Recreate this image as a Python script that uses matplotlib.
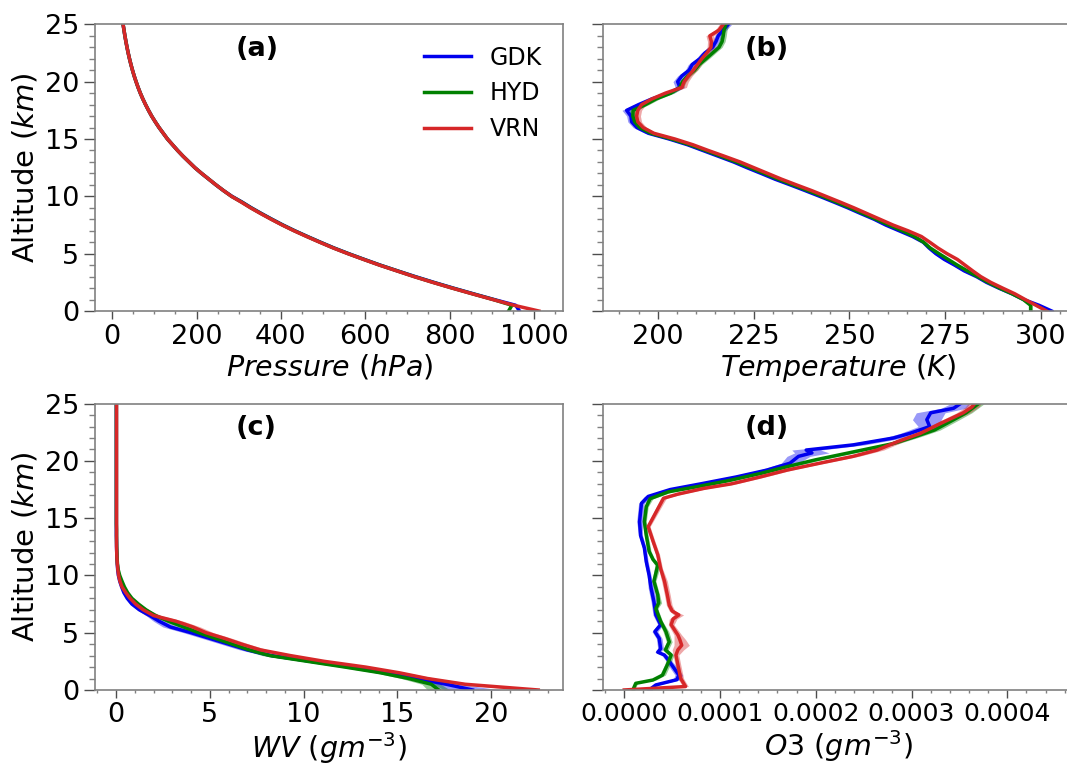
import matplotlib
matplotlib.use("Agg")
import matplotlib.pyplot as plt
from matplotlib.ticker import MultipleLocator, FormatStrFormatter
import numpy as np

# altitude levels (km) shared by pressure, temperature and water vapour
alt_km = [0.0, 0.5, 1.0, 1.5, 2.0, 2.5, 3.0, 3.5, 4.0, 4.5,
          5.0, 5.5, 6.0, 6.5, 7.0, 7.5, 8.0, 8.5, 9.0, 9.5,
          10.0, 10.5, 11.0, 11.5, 12.0, 12.5, 13.0, 13.5, 14.0, 14.5,
          15.0, 15.5, 16.0, 16.5, 17.0, 17.5, 18.0, 18.5, 19.0, 19.5,
          20.0, 20.5, 21.0, 21.5, 22.0, 22.5, 23.0, 23.5, 24.0, 24.5, 25.0]

stations = ["GDK", "HYD", "VRN"]
colors = {"GDK": "#0000ee", "HYD": "#008000", "VRN": "#d62728"}

# pressure (hPa)
p_gdk = [966, 957, 906, 857, 809, 763, 719, 677, 636, 598,
         561, 526, 494, 463, 433, 405, 379, 354, 330, 308,
         284, 264, 246, 229, 212, 196, 182, 168, 155, 143,
         131, 121, 111, 102, 93.5, 86, 79, 72.5, 66.6, 61.3,
         56.5, 52, 48, 44.3, 40.9, 37.8, 35, 32.4, 30, 27.8, 25.7]
p_hyd = [940, 948, 904, 855, 807, 761, 717, 676, 635, 597,
         560, 525, 493, 462, 432, 404, 378, 353, 329, 307,
         283, 264, 246, 229, 212, 196, 182, 168, 155, 143,
         131, 121, 111, 102, 93.5, 86, 79, 72.5, 66.6, 61.3,
         56.5, 52, 48, 44.3, 40.9, 37.8, 35, 32.4, 30, 27.8, 25.7]
p_vrn = [1012, 953, 903, 854, 806, 760, 716, 675, 634, 596,
         559, 524, 492, 461, 431, 403, 377, 352, 328, 306,
         283, 264, 246, 229, 212, 196, 182, 168, 155, 143,
         131, 121, 111, 102, 93.5, 86, 79, 72.5, 66.6, 61.3,
         56.5, 52, 48, 44.3, 40.9, 37.8, 35, 32.4, 30, 27.8, 25.7]

# temperature (K) and its spread
t_gdk = [302.8, 299.5, 295.5, 292.5, 289.0, 285.8, 283.2, 280.0, 277.5, 274.8,
         272.6, 270.8, 269.3, 266.5, 263.0, 259.5, 256.5, 253.0, 249.6, 246.0,
         242.3, 238.5, 234.6, 230.6, 227.0, 223.3, 219.8, 215.8, 211.8, 207.8,
         203.0, 197.6, 194.6, 193.2, 193.0, 191.9, 195.0, 198.5, 203.0, 205.8,
         205.2, 206.3, 208.2, 209.0, 211.0, 212.3, 214.3, 215.2, 215.8, 217.0, 218.4]
t_hyd = [297.3, 297.3, 295.4, 292.5, 289.2, 286.2, 283.5, 280.8, 278.2, 275.8,
         273.4, 271.1, 269.4, 267.0, 263.8, 260.3, 257.0, 253.6, 250.2, 246.6,
         243.0, 239.2, 235.3, 231.4, 227.8, 224.1, 220.5, 216.5, 212.5, 208.4,
         203.6, 198.2, 195.3, 194.0, 193.5, 193.6, 196.8, 199.6, 203.4, 205.8,
         206.5, 207.8, 209.6, 210.8, 212.6, 214.3, 216.0, 216.8, 217.1, 217.3, 217.8]
t_vrn = [301.5, 298.7, 295.9, 293.2, 290.0, 286.9, 284.3, 282.2, 280.2, 278.2,
         275.5, 273.1, 271.0, 268.8, 265.3, 261.4, 258.0, 254.6, 251.2, 247.6,
         243.9, 240.2, 236.2, 232.3, 228.7, 225.1, 221.5, 217.4, 213.2, 209.2,
         204.5, 199.0, 196.2, 194.8, 194.5, 194.8, 195.8, 198.5, 202.0, 206.3,
         206.9, 208.0, 209.3, 210.4, 211.5, 212.8, 213.9, 214.0, 213.6, 216.0, 217.1]
t_sd_gdk = [0.7, 0.5, 0.5, 0.5, 0.5, 0.5, 0.5, 0.6, 0.6, 0.6,
            0.6, 0.5, 0.5, 0.5, 0.5, 0.5, 0.5, 0.5, 0.5, 0.5,
            0.5, 0.5, 0.5, 0.5, 0.5, 0.6, 0.6, 0.6, 0.7, 0.7,
            0.8, 0.9, 1.0, 1.0, 1.1, 1.2, 1.2, 1.1, 1.1, 1.2,
            1.2, 1.1, 1.0, 1.0, 1.0, 1.0, 0.9, 0.9, 0.9, 0.9, 0.9]
t_sd_hyd = [0.5, 0.5, 0.4, 0.4, 0.4, 0.4, 0.4, 0.4, 0.4, 0.4,
            0.4, 0.4, 0.4, 0.4, 0.4, 0.4, 0.4, 0.4, 0.4, 0.4,
            0.4, 0.4, 0.4, 0.4, 0.4, 0.5, 0.5, 0.5, 0.5, 0.6,
            0.7, 0.8, 0.8, 0.9, 0.9, 0.9, 0.9, 0.9, 0.9, 0.9,
            0.9, 0.8, 0.8, 0.8, 0.8, 0.8, 0.8, 0.8, 0.8, 0.8, 0.8]
t_sd_vrn = [0.5, 0.5, 0.4, 0.4, 0.4, 0.4, 0.4, 0.4, 0.4, 0.4,
            0.4, 0.4, 0.4, 0.4, 0.4, 0.4, 0.4, 0.4, 0.4, 0.4,
            0.4, 0.4, 0.4, 0.4, 0.4, 0.5, 0.5, 0.5, 0.6, 0.6,
            0.7, 0.8, 0.9, 1.0, 1.0, 1.0, 1.1, 1.2, 1.2, 1.2,
            1.1, 1.0, 1.0, 1.0, 1.0, 1.0, 1.0, 1.0, 1.0, 1.0, 1.0]

# water vapour (g m-3) and its spread
wv_gdk = [19.0, 17.6, 16.0, 14.3, 12.5, 10.4, 8.3, 7.0, 6.0, 5.0,
          4.0, 2.9, 2.3, 1.8, 1.25, 0.85, 0.6, 0.42, 0.3, 0.2,
          0.13, 0.09, 0.07, 0.05, 0.04, 0.03, 0.03, 0.02, 0.02, 0.02,
          0.02, 0.02, 0.02, 0.02, 0.02, 0.02, 0.02, 0.02, 0.02, 0.02,
          0.02, 0.02, 0.02, 0.02, 0.02, 0.02, 0.02, 0.02, 0.02, 0.02, 0.02]
wv_hyd = [17.2, 16.8, 15.6, 14.1, 12.2, 10.2, 8.2, 7.1, 6.2, 5.3,
          4.4, 3.6, 2.8, 2.1, 1.6, 1.2, 0.85, 0.62, 0.45, 0.32,
          0.2, 0.12, 0.08, 0.06, 0.05, 0.04, 0.03, 0.03, 0.03, 0.02,
          0.02, 0.02, 0.02, 0.02, 0.02, 0.02, 0.02, 0.02, 0.02, 0.02,
          0.02, 0.02, 0.02, 0.02, 0.02, 0.02, 0.02, 0.02, 0.02, 0.02, 0.02]
wv_vrn = [22.5, 18.6, 16.6, 15.1, 13.3, 11.1, 9.3, 7.7, 6.7, 5.8,
          4.8, 4.1, 3.2, 2.0, 1.45, 1.05, 0.75, 0.52, 0.32, 0.21,
          0.14, 0.1, 0.07, 0.05, 0.04, 0.03, 0.03, 0.03, 0.03, 0.03,
          0.03, 0.03, 0.03, 0.03, 0.03, 0.03, 0.03, 0.03, 0.03, 0.03,
          0.03, 0.03, 0.03, 0.03, 0.03, 0.03, 0.03, 0.03, 0.03, 0.03, 0.03]
wv_sd_gdk = [1.5, 0.7, 0.5, 0.4, 0.4, 0.4, 0.4, 0.4, 0.4, 0.4,
             0.4, 0.4, 0.3, 0.2, 0.15, 0.1, 0.08, 0.06, 0.05, 0.04,
             0.03, 0.02, 0.02, 0.01, 0.01, 0.01, 0.01, 0.01, 0.01, 0.01,
             0.01, 0.01, 0.01, 0.01, 0.01, 0.01, 0.01, 0.01, 0.01, 0.01,
             0.01, 0.01, 0.01, 0.01, 0.01, 0.01, 0.01, 0.01, 0.01, 0.01, 0.01]
wv_sd_hyd = [0.6, 0.5, 0.4, 0.3, 0.3, 0.3, 0.4, 0.3, 0.3, 0.3,
             0.3, 0.3, 0.2, 0.2, 0.15, 0.1, 0.08, 0.06, 0.05, 0.04,
             0.03, 0.02, 0.02, 0.01, 0.01, 0.01, 0.01, 0.01, 0.01, 0.01,
             0.01, 0.01, 0.01, 0.01, 0.01, 0.01, 0.01, 0.01, 0.01, 0.01,
             0.01, 0.01, 0.01, 0.01, 0.01, 0.01, 0.01, 0.01, 0.01, 0.01, 0.01]
wv_sd_vrn = [0.8, 0.6, 0.5, 0.4, 0.4, 0.4, 0.4, 0.4, 0.4, 0.4,
             0.4, 0.4, 0.4, 0.4, 0.3, 0.2, 0.1, 0.08, 0.06, 0.05,
             0.03, 0.02, 0.02, 0.01, 0.01, 0.01, 0.01, 0.01, 0.01, 0.01,
             0.01, 0.01, 0.01, 0.01, 0.01, 0.01, 0.01, 0.01, 0.01, 0.01,
             0.01, 0.01, 0.01, 0.01, 0.01, 0.01, 0.01, 0.01, 0.01, 0.01, 0.01]

# ozone, in units of 1e-5 g m-3, on each station's own levels
o3_alt_gdk = [0.0, 0.44, 0.9, 1.3, 1.9, 2.5, 3.05, 3.3, 3.6, 4.5,
              5.1, 5.7, 6.55, 7.7, 8.9, 10.0, 11.2, 12.4, 13.5, 14.7,
              16.3, 16.9, 17.5, 18.0, 18.6, 19.2, 19.8, 20.4, 20.7, 20.95,
              21.4, 22.0, 22.4, 23.0, 23.6, 24.2, 24.6, 25.0]
o3_gdk = [2.6, 3.3, 5.5, 5.7, 5.2, 4.7, 4.2, 3.5, 3.8, 3.65,
          3.2, 3.8, 3.3, 3.1, 2.8, 2.6, 2.3, 2.1, 1.7, 1.6,
          1.8, 2.5, 4.8, 8.0, 11.7, 14.9, 17.3, 18.2, 19.6, 19.0,
          23.9, 28.1, 29.8, 31.9, 31.6, 32.0, 34.4, 35.1]
o3_sd_gdk = [0.3, 0.3, 0.4, 0.4, 0.4, 0.3, 0.3, 0.3, 0.3, 0.3,
             0.3, 0.3, 0.3, 0.3, 0.3, 0.2, 0.2, 0.2, 0.2, 0.3,
             0.3, 0.4, 0.6, 0.8, 0.8, 0.8, 0.9, 1.2, 1.8, 1.5,
             1.2, 1.0, 1.0, 1.2, 1.5, 1.5, 1.3, 1.0]
o3_alt_hyd = [0.0, 0.58, 0.87, 1.3, 2.2, 3.05, 3.5, 4.2, 5.1, 6.0,
              7.1, 7.6, 8.3, 9.5, 10.9, 11.4, 12.1, 13.5, 14.7, 16.0,
              16.7, 17.3, 17.75, 18.3, 18.9, 19.5, 20.1, 20.8, 21.5, 22.1,
              22.7, 23.6, 24.2, 25.0]
o3_hyd = [0.9, 1.2, 3.0, 4.0, 4.5, 4.9, 4.3, 4.7, 4.35, 3.8,
          3.3, 3.6, 3.5, 3.1, 3.5, 3.0, 2.6, 2.3, 2.1, 2.3,
          2.7, 4.6, 7.6, 11.0, 14.2, 17.0, 20.0, 24.0, 28.0, 30.3,
          32.4, 34.4, 35.7, 37.0]
o3_sd_hyd = [0.2, 0.2, 0.3, 0.3, 0.3, 0.3, 0.3, 0.3, 0.3, 0.2,
             0.2, 0.3, 0.2, 0.2, 0.3, 0.2, 0.2, 0.2, 0.2, 0.2,
             0.3, 0.4, 0.5, 0.5, 0.5, 0.6, 0.6, 0.6, 0.6, 0.6,
             0.6, 0.6, 0.6, 0.6]
o3_alt_vrn = [0.0, 0.3, 1.0, 2.2, 3.05, 3.5, 3.9, 4.4, 4.8, 5.7,
              6.2, 6.55, 6.9, 7.4, 8.3, 9.5, 10.6, 11.8, 13.0, 14.26,
              16.74, 17.1, 17.6, 18.0, 18.6, 19.2, 19.8, 20.4, 20.95, 21.7,
              22.4, 23.3, 24.2, 24.7, 25.0]
o3_vrn = [0.0, 6.4, 5.9, 5.6, 5.4, 5.6, 6.0, 5.8, 5.6, 4.9,
          5.1, 5.7, 5.0, 4.7, 4.5, 4.2, 3.8, 3.5, 3.0, 2.5,
          4.1, 5.6, 8.3, 11.2, 14.2, 17.0, 20.4, 23.9, 26.4, 28.6,
          30.9, 33.1, 35.4, 36.3, 36.6]
o3_sd_vrn = [0.1, 0.3, 0.3, 0.3, 0.3, 0.6, 0.8, 0.6, 0.4, 0.3,
             0.4, 0.5, 0.3, 0.3, 0.3, 0.3, 0.2, 0.2, 0.2, 0.2,
             0.3, 0.4, 0.5, 0.5, 0.5, 0.5, 0.5, 0.6, 0.7, 0.6,
             0.6, 0.6, 0.7, 0.7, 0.7]

fig = plt.figure(figsize=(10.67, 7.68), dpi=100)
ax_a = fig.add_axes([0.089, 0.595, 0.439, 0.3733])
ax_b = fig.add_axes([0.5654, 0.595, 0.440, 0.3733])
ax_c = fig.add_axes([0.089, 0.1016, 0.439, 0.3728])
ax_d = fig.add_axes([0.5654, 0.1016, 0.440, 0.3728])

lw = 2.5

# (a) pressure
for st, p in zip(stations, [p_gdk, p_hyd, p_vrn]):
    ax_a.plot(p, alt_km, color=colors[st], lw=lw, label=st)

# (b) temperature
for st, t, sd in zip(stations, [t_gdk, t_hyd, t_vrn], [t_sd_gdk, t_sd_hyd, t_sd_vrn]):
    t = np.array(t); sd = np.array(sd)
    ax_b.fill_betweenx(alt_km, t - sd, t + sd, color=colors[st], alpha=0.4, lw=0)
    ax_b.plot(t, alt_km, color=colors[st], lw=lw)

# (c) water vapour
for st, w, sd in zip(stations, [wv_gdk, wv_hyd, wv_vrn], [wv_sd_gdk, wv_sd_hyd, wv_sd_vrn]):
    w = np.array(w); sd = np.array(sd)
    ax_c.fill_betweenx(alt_km, w - sd, w + sd, color=colors[st], alpha=0.4, lw=0)
    ax_c.plot(w, alt_km, color=colors[st], lw=lw)

# (d) ozone
o3_sets = [(o3_alt_gdk, o3_gdk, o3_sd_gdk), (o3_alt_hyd, o3_hyd, o3_sd_hyd),
           (o3_alt_vrn, o3_vrn, o3_sd_vrn)]
for st, (a, o, sd) in zip(stations, o3_sets):
    o = np.array(o) * 1e-5; sd = np.array(sd) * 1e-5
    ax_d.fill_betweenx(a, o - sd, o + sd, color=colors[st], alpha=0.4, lw=0)
    ax_d.plot(o, a, color=colors[st], lw=lw)

ax_a.set_xlim(-41, 1070)
ax_a.xaxis.set_major_locator(MultipleLocator(200))
ax_a.xaxis.set_minor_locator(MultipleLocator(50))
ax_b.set_xlim(185.8, 308.3)
ax_b.xaxis.set_major_locator(MultipleLocator(25))
ax_b.xaxis.set_minor_locator(MultipleLocator(5))
ax_c.set_xlim(-1.12, 23.84)
ax_c.xaxis.set_major_locator(MultipleLocator(5))
ax_c.xaxis.set_minor_locator(MultipleLocator(1))
ax_d.set_xlim(-0.0000219, 0.0004684)
ax_d.xaxis.set_major_locator(MultipleLocator(0.0001))
ax_d.xaxis.set_minor_locator(MultipleLocator(0.00002))
ax_d.xaxis.set_major_formatter(FormatStrFormatter('%.4f'))

ax_a.set_xlabel(r'$Pressure\ (hPa)$', fontsize=20.5, labelpad=2)
ax_b.set_xlabel(r'$Temperature\ (K)$', fontsize=20.5, labelpad=2)
ax_c.set_xlabel(r'$WV\ (gm^{-3})$', fontsize=20.5, labelpad=1)
ax_d.set_xlabel(r'$O3\ (gm^{-3})$', fontsize=20.5, labelpad=1)
ax_a.set_ylabel('Altitude ($km$)', fontsize=21)
ax_c.set_ylabel('Altitude ($km$)', fontsize=21)

for ax, tag in zip([ax_a, ax_b, ax_c, ax_d], ['(a)', '(b)', '(c)', '(d)']):
    ax.set_ylim(0, 25)
    ax.yaxis.set_major_locator(MultipleLocator(5))
    ax.yaxis.set_minor_locator(MultipleLocator(1))
    for s in ax.spines.values():
        s.set_color('0.5')
        s.set_linewidth(1.2)
    ax.tick_params(axis='y', which='major', length=8, width=1, color='0.3', labelsize=19.5)
    ax.tick_params(axis='y', which='minor', length=4, width=1, color='0.5')
    ax.tick_params(axis='x', which='major', length=5.5, width=1, color='0.3', labelsize=19.5)
    ax.tick_params(axis='x', which='minor', length=2.5, width=1, color='0.5')
    ax.text(0.3, 0.89, tag, transform=ax.transAxes, fontsize=19.5,
            fontweight='bold', ha='left', va='baseline')

ax_d.tick_params(axis='x', which='major', labelsize=18)
ax_b.tick_params(axis='y', labelleft=False)
ax_d.tick_params(axis='y', labelleft=False)

ax_a.legend(loc='upper right', frameon=False, fontsize=17)

fig.savefig('out.png', dpi=100)
